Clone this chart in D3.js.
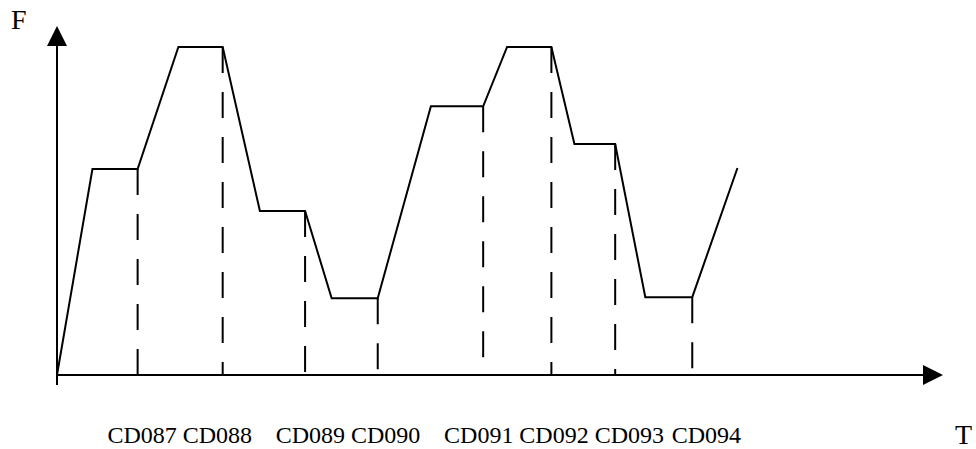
<!DOCTYPE html>
<html>
<head>
<meta charset="utf-8">
<script src="https://cdn.jsdelivr.net/npm/d3@7"></script>
<style>
  body { margin: 0; background: #fff; }
  svg { display: block; }
  text { font-family: "Liberation Serif", "Times New Roman", serif; fill: #000; }
</style>
</head>
<body>
<svg width="976" height="449"></svg>
<script>
// time (T) and force (F) of each corner of the curve
var times  = [0, 4, 9.1, 13.7, 18.7, 22.9, 28, 31, 36.2, 42.2, 48.1, 50.8, 55.8, 58.4, 63, 66.4, 71.7, 76.8];
var forces = [0, 59, 59, 94, 94, 47, 47, 22, 22, 77, 77, 94, 94, 66.2, 66.2, 22.3, 22.3, 59.3];

// corners where a step ends (index into times/forces)
var stepEnds = [2, 4, 6, 8, 10, 12, 14, 16];

// step labels and where they sit on the time axis
var stepLabels = ["CD087", "CD088", "CD089", "CD090", "CD091", "CD092", "CD093", "CD094"];
var labelTimes = [9.6, 18.1, 28.6, 37.1, 47.6, 56.1, 64.6, 73.3];

var svg = d3.select("svg"),
    width = +svg.attr("width"),
    height = +svg.attr("height");

var x = d3.scaleLinear().domain([0, 100]).range([57, 943]);
var y = d3.scaleLinear().domain([0, 100]).range([375, 26]);

var arrow = 20;

// axes
var axes = svg.append("g")
    .attr("stroke", "#000")
    .attr("stroke-width", 2);

axes.append("line")
    .attr("x1", x(0)).attr("y1", y(-2.9))
    .attr("x2", x(0)).attr("y2", y(100) + arrow);

axes.append("line")
    .attr("x1", x(0)).attr("y1", y(0))
    .attr("x2", x(100) - arrow).attr("y2", y(0));

svg.append("path")
    .attr("d", "M" + x(0) + "," + y(100) + "l" + (-arrow / 2) + "," + arrow + "h" + arrow + "z")
    .attr("fill", "#000");

svg.append("path")
    .attr("d", "M" + x(100) + "," + y(0) + "l" + (-arrow) + "," + (-arrow / 2) + "v" + arrow + "z")
    .attr("fill", "#000");

// dashed drop lines at the end of each step
svg.append("g")
    .attr("stroke", "#000")
    .attr("stroke-width", 2)
    .attr("stroke-dasharray", "26,19")
    .selectAll("line")
    .data(stepEnds)
    .enter().append("line")
    .attr("x1", function(i) { return x(times[i]); })
    .attr("y1", function(i) { return y(forces[i]); })
    .attr("x2", function(i) { return x(times[i]); })
    .attr("y2", y(0));

// the force curve
var line = d3.line()
    .x(function(d) { return x(d[0]); })
    .y(function(d) { return y(d[1]); });

svg.append("path")
    .datum(d3.zip(times, forces))
    .attr("d", line)
    .attr("fill", "none")
    .attr("stroke", "#000")
    .attr("stroke-width", 2)
    .attr("stroke-linejoin", "miter");

// step labels
svg.append("g")
    .attr("font-size", 24)
    .attr("text-anchor", "middle")
    .selectAll("text")
    .data(stepLabels)
    .enter().append("text")
    .attr("x", function(d, i) { return x(labelTimes[i]); })
    .attr("y", 443)
    .text(function(d) { return d; });

// axis names
svg.append("text")
    .attr("x", 11)
    .attr("y", 29)
    .attr("font-size", 28)
    .text("F");

svg.append("text")
    .attr("x", 955)
    .attr("y", 444)
    .attr("font-size", 28)
    .text("T");
</script>
</body>
</html>
